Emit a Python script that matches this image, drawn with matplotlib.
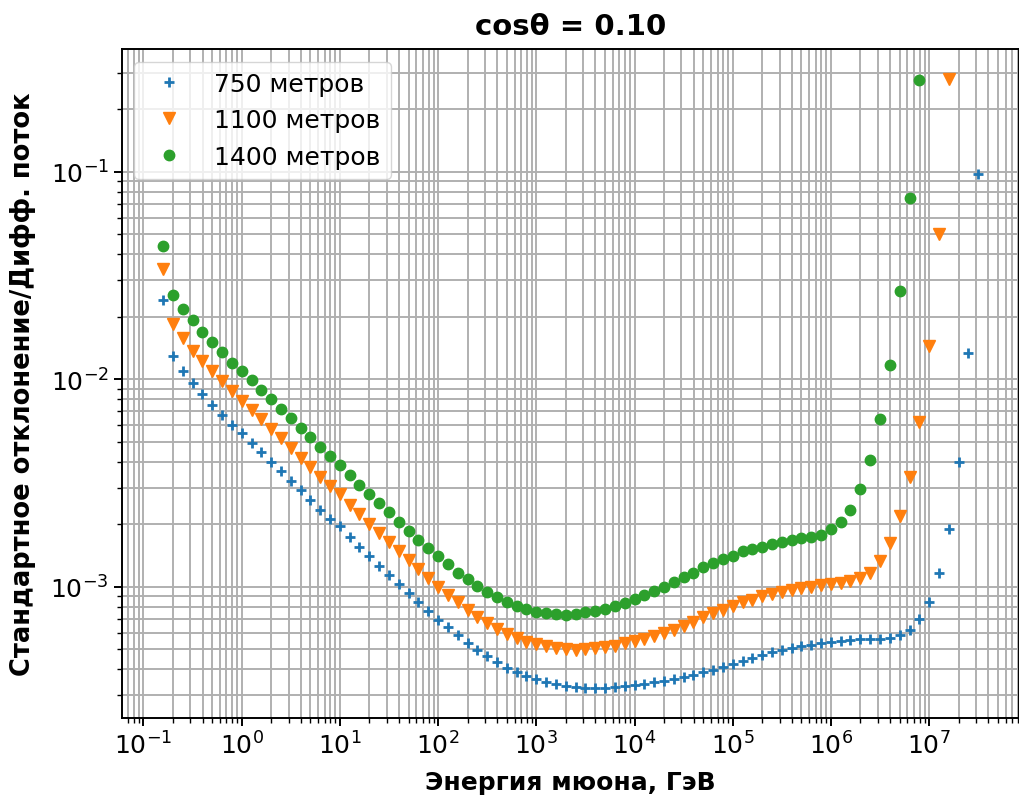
import matplotlib
matplotlib.use("Agg")
import matplotlib.pyplot as plt
from matplotlib.ticker import LogLocator, NullFormatter

# энергия мюона, ГэВ (10 точек на декаду)
energy = [
    0.158, 0.200, 0.251, 0.316, 0.398, 0.501, 0.631, 0.794,
    1.00, 1.26, 1.58, 2.00, 2.51, 3.16, 3.98, 5.01, 6.31, 7.94,
    10.0, 12.6, 15.8, 20.0, 25.1, 31.6, 39.8, 50.1, 63.1, 79.4,
    100, 126, 158, 200, 251, 316, 398, 501, 631, 794,
    1.00e3, 1.26e3, 1.58e3, 2.00e3, 2.51e3, 3.16e3, 3.98e3, 5.01e3, 6.31e3, 7.94e3,
    1.00e4, 1.26e4, 1.58e4, 2.00e4, 2.51e4, 3.16e4, 3.98e4, 5.01e4, 6.31e4, 7.94e4,
    1.00e5, 1.26e5, 1.58e5, 2.00e5, 2.51e5, 3.16e5, 3.98e5, 5.01e5, 6.31e5, 7.94e5,
    1.00e6, 1.26e6, 1.58e6, 2.00e6, 2.51e6, 3.16e6, 3.98e6, 5.01e6, 6.31e6, 7.94e6,
    1.00e7, 1.26e7, 1.58e7, 2.00e7, 2.51e7, 3.16e7,
]

rel_750 = [
    0.0242, 0.0130, 0.0110, 0.00959, 0.00849, 0.00752, 0.00675, 0.00604,
    0.00548, 0.00493, 0.00445, 0.00399, 0.00360, 0.00324, 0.00292, 0.00262, 0.00235, 0.00213,
    0.00195, 0.00173, 0.00155, 0.00141, 0.00126, 0.00114, 0.00103, 0.000931, 0.000841, 0.000760,
    0.000693, 0.000637, 0.000585, 0.000536, 0.000497, 0.000461, 0.000434, 0.000407, 0.000386, 0.000370,
    0.000359, 0.000346, 0.000338, 0.000332, 0.000327, 0.000324, 0.000324, 0.000324, 0.000327, 0.000331,
    0.000335, 0.000338, 0.000346, 0.000352, 0.000359, 0.000366, 0.000375, 0.000386, 0.000398, 0.000408,
    0.000424, 0.000440, 0.000453, 0.000469, 0.000483, 0.000495, 0.000507, 0.000516, 0.000525, 0.000536,
    0.000543, 0.000547, 0.000553, 0.000557, 0.000560, 0.000560, 0.000564, 0.000587, 0.000621, 0.000697,
    0.000843, 0.00116, 0.00189, 0.00399, 0.0133, 0.0977,
]

rel_1100 = [
    0.0340, 0.0185, 0.0158, 0.0137, 0.0122, 0.0109, 0.00984, 0.00881,
    0.00787, 0.00708, 0.00641, 0.00575, 0.00519, 0.00466, 0.00416, 0.00378, 0.00339, 0.00307,
    0.00279, 0.00248, 0.00224, 0.00200, 0.00181, 0.00165, 0.00149, 0.00135, 0.00122, 0.00110,
    0.00100, 0.000914, 0.000841, 0.000773, 0.000716, 0.000668, 0.000625, 0.000592, 0.000564, 0.000543,
    0.000530, 0.000516, 0.000505, 0.000501, 0.000497, 0.000499, 0.000505, 0.000511, 0.000520, 0.000533,
    0.000547, 0.000560, 0.000577, 0.000598, 0.000621, 0.000649, 0.000673, 0.000711, 0.000745, 0.000774,
    0.000809, 0.000841, 0.000865, 0.000897, 0.000923, 0.000940, 0.000964, 0.000986, 0.00100, 0.00102,
    0.00103, 0.00104, 0.00106, 0.00110, 0.00117, 0.00133, 0.00163, 0.00220, 0.00339, 0.00625,
    0.0145, 0.0501, 0.280,
]

rel_1400 = [
    0.0440, 0.0255, 0.0218, 0.0193, 0.0168, 0.0151, 0.0135, 0.0120,
    0.0109, 0.00989, 0.00887, 0.00800, 0.00721, 0.00649, 0.00582, 0.00526, 0.00471, 0.00427,
    0.00386, 0.00345, 0.00310, 0.00281, 0.00253, 0.00229, 0.00204, 0.00186, 0.00168, 0.00153,
    0.00140, 0.00128, 0.00117, 0.00109, 0.00101, 0.000946, 0.000891, 0.000841, 0.000807, 0.000778,
    0.000759, 0.000745, 0.000736, 0.000733, 0.000740, 0.000753, 0.000762, 0.000782, 0.000807, 0.000832,
    0.000869, 0.000910, 0.000951, 0.00100, 0.00105, 0.00111, 0.00117, 0.00124, 0.00130, 0.00136,
    0.00141, 0.00148, 0.00152, 0.00155, 0.00161, 0.00165, 0.00168, 0.00172, 0.00174, 0.00177,
    0.00190, 0.00204, 0.00235, 0.00294, 0.00408, 0.00641, 0.0117, 0.0266, 0.0750, 0.275,
]

fig = plt.figure(figsize=(10.19, 8.03), dpi=100)
ax = fig.add_axes([0.1197, 0.1046, 0.8803, 0.8331])

ax.plot(energy[:len(rel_750)], rel_750, linestyle="none", marker="+",
        markersize=6.5, markeredgewidth=2.0, color="C0", label="750 метров")
ax.plot(energy[:len(rel_1100)], rel_1100, linestyle="none", marker="v",
        markersize=8.5, color="C1", label="1100 метров")
ax.plot(energy[:len(rel_1400)], rel_1400, linestyle="none", marker="o",
        markersize=7.5, color="C2", label="1400 метров")

ax.set_xscale("log")
ax.set_yscale("log")
ax.set_xlim(10 ** -1.219, 10 ** 7.915)
ax.set_ylim(10 ** -3.633, 10 ** -0.409)

for axis in (ax.xaxis, ax.yaxis):
    axis.set_major_locator(LogLocator(base=10))
    axis.set_minor_locator(LogLocator(base=10, subs=range(2, 10), numticks=30))
    axis.set_minor_formatter(NullFormatter())

ax.grid(True, which="both", color="#b0b0b0", linewidth=1.4)
ax.set_axisbelow(True)
ax.tick_params(which="major", length=6, width=1.4, labelsize=18)
ax.tick_params(which="minor", length=3.5, width=1.0)
for s in ax.spines.values():
    s.set_linewidth(1.4)

ax.set_title("cosθ = 0.10", fontsize=21, fontweight="bold", pad=11)
ax.set_xlabel("Энергия мюона, ГэВ", fontsize=18, fontweight="bold", labelpad=8)
ax.set_ylabel("Стандартное отклонение/Дифф. поток", fontsize=18.5, fontweight="bold")
ax.yaxis.set_label_coords(-0.096, 0.5)

ax.legend(loc="upper left", fontsize=18)

fig.savefig("out.png", dpi=100)
